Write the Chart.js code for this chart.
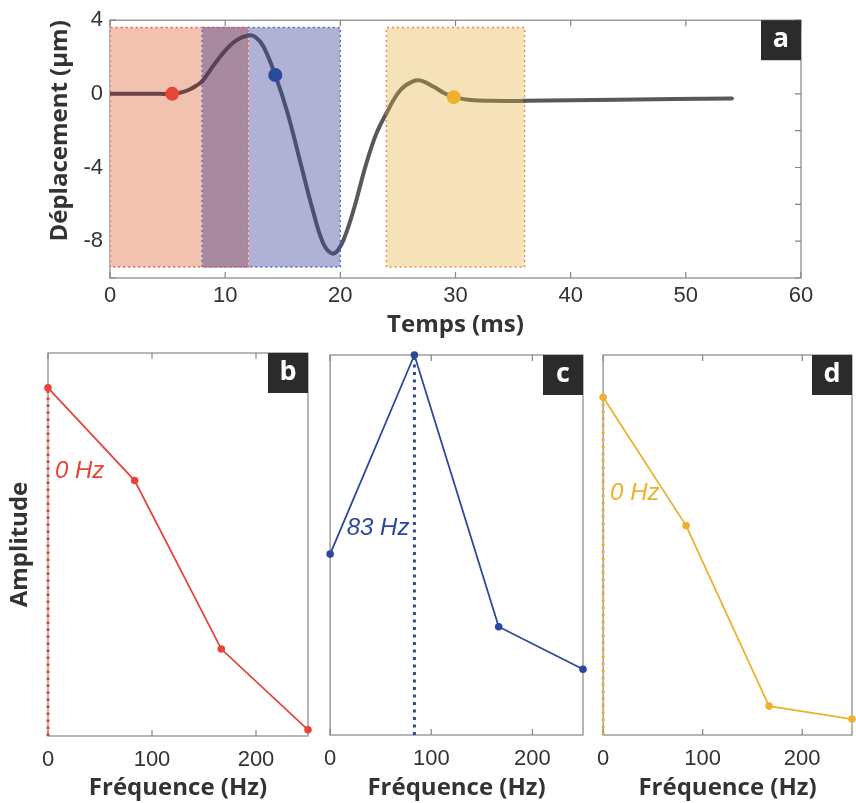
<!DOCTYPE html>
<html lang="fr">
<head>
    <meta charset="UTF-8">
    <title>Déplacement et spectres</title>
    <script src="https://cdn.jsdelivr.net/npm/chart.js"></script>
    <style>
        body {
            margin: 0;
            background: #fff;
        }
        .figure {
            position: relative;
            width: 856px;
            height: 803px;
        }
        .figure canvas {
            position: absolute;
        }
    </style>
</head>
<body>
    <div class="figure">
        <canvas id="chartA" style="left:0;top:0" width="856" height="340"></canvas>
        <canvas id="chartB" style="left:0;top:340px" width="320" height="463"></canvas>
        <canvas id="chartC" style="left:313px;top:340px" width="277" height="463"></canvas>
        <canvas id="chartD" style="left:586px;top:340px" width="270" height="463"></canvas>
    </div>

    <script>
        // --- signal temporel (panneau a) ---
        const temps = [0, 4, 5, 5.5, 6, 6.5, 7, 7.5, 8, 9, 10, 11, 12, 12.6, 13.3, 14.35, 15.4, 16.5, 17.6, 18.5,
                       19.2, 19.7, 20.3, 21.2, 22.2, 23.1, 24, 25.2, 26.3, 27, 28.1, 29, 29.85, 31.3, 33, 36, 44, 54];
        const deplacement = [0, 0, 0, 0.01, 0.05, 0.13, 0.26, 0.45, 0.68, 1.55, 2.35, 2.92, 3.17, 3.1, 2.6, 1.02, -1.0, -3.65, -6.3, -8.1,
                             -8.65, -8.55, -7.9, -6.2, -3.9, -2.2, -1.05, 0.2, 0.68, 0.72, 0.39, 0.05, -0.18, -0.33, -0.38, -0.38, -0.32, -0.25];

        // fenêtres d'analyse (ms) : rouge, bleue, jaune
        const fenetreRouge = [0, 12];
        const fenetreBleue = [8, 20];
        const fenetreJaune = [24, 36];
        const fenetreHaut = 3.6;
        const fenetreBas = -9.4;

        // points marqués sur le signal
        const marqueTemps = [5.4, 14.35, 29.85];
        const marqueDepl = [0, 1.02, -0.18];

        const tempsTicks = [0, 10, 20, 30, 40, 50, 60];
        const deplMarques = [-10, -8, -6, -4, -2, 0, 2, 4];
        const deplTicks = [4, 0, -4, -8];

        // --- spectres (panneaux b, c, d) ---
        const frequences = [0, 83.33, 166.67, 250];
        const amplitudeB = [0.909, 0.667, 0.227, 0.016];
        const amplitudeC = [0.476, 1.0, 0.285, 0.173];
        const amplitudeD = [0.889, 0.551, 0.076, 0.042];
        const freqDominante = [0, 83.33, 0];
        const etiquettesFreq = ['0 Hz', '83 Hz', '0 Hz'];
        const hauteurEtiquettes = [0.69, 0.545, 0.637];
        const freqTicks = [0, 100, 200];

        const ROUGE = '#e8453a';
        const BLEU = '#2c479e';
        const JAUNE = '#edb12f';

        Chart.defaults.font.family = '"Liberation Sans", Arial, sans-serif';
        Chart.defaults.color = '#333';

        const titreFont = { family: '"Open Sans", sans-serif', size: 24, weight: 'bold' };

        // cadre, graduations internes et étiquettes des panneaux
        const cadre = {
            id: 'cadre',
            beforeDatasetsDraw(chart, args, opts) {
                const { ctx, chartArea: a, scales } = chart;
                ctx.save();
                ctx.strokeStyle = '#858585';
                ctx.lineWidth = 1.2;
                ctx.strokeRect(a.left, a.top, a.right - a.left, a.bottom - a.top);
                ctx.beginPath();
                scales.x.ticks.forEach(t => {
                    const px = scales.x.getPixelForValue(t.value);
                    ctx.moveTo(px, a.bottom);
                    ctx.lineTo(px, a.bottom - 6);
                    ctx.moveTo(px, a.top);
                    ctx.lineTo(px, a.top + 6);
                });
                if (opts.marquesY) {
                    scales.y.ticks.forEach(t => {
                        const py = scales.y.getPixelForValue(t.value);
                        ctx.moveTo(a.left, py);
                        ctx.lineTo(a.left + 6, py);
                        ctx.moveTo(a.right, py);
                        ctx.lineTo(a.right - 6, py);
                    });
                }
                ctx.stroke();
                ctx.restore();
            },
            afterDraw(chart, args, opts) {
                const { ctx, chartArea: a } = chart;
                ctx.save();
                ctx.fillStyle = '#2b2b2b';
                ctx.fillRect(a.right - 40, a.top, 40, 40);
                ctx.fillStyle = '#fff';
                ctx.font = 'bold 27px "Open Sans"';
                ctx.textAlign = 'center';
                ctx.textBaseline = 'middle';
                ctx.fillText(opts.lettre, a.right - 20, a.top + 19);
                if (opts.note) {
                    const n = opts.note;
                    const px = chart.scales.x.getPixelForValue(n.x);
                    const py = chart.scales.y.getPixelForValue(n.y);
                    ctx.font = 'italic 24px "Liberation Sans"';
                    ctx.fillStyle = n.couleur;
                    ctx.textAlign = n.gauche ? 'right' : 'left';
                    ctx.fillText(n.texte, px + (n.gauche ? -5 : 7), py);
                }
                ctx.restore();
            }
        };
        Chart.register(cadre);

        // couleur du signal selon la fenêtre traversée
        function couleurSegment(t) {
            const dansR = t >= fenetreRouge[0] && t <= fenetreRouge[1];
            const dansB = t >= fenetreBleue[0] && t <= fenetreBleue[1];
            const dansJ = t >= fenetreJaune[0] && t <= fenetreJaune[1];
            if (dansR && dansB) return '#5c4258';
            if (dansR) return '#6c4446';
            if (dansB) return '#4b5172';
            if (dansJ) return '#857650';
            return '#585858';
        }

        function zoneFenetre(debut, fin, couleur) {
            return {
                data: [{ x: debut, y: fenetreHaut }, { x: fin, y: fenetreHaut }],
                fill: { value: fenetreBas },
                backgroundColor: couleur,
                borderWidth: 0,
                pointRadius: 0,
                tension: 0,
                order: 6
            };
        }

        function contourFenetre(f, couleur) {
            return {
                data: [{ x: f[0], y: fenetreBas }, { x: f[0], y: fenetreHaut }, { x: f[1], y: fenetreHaut },
                       { x: f[1], y: fenetreBas }, { x: f[0], y: fenetreBas }],
                borderColor: couleur,
                borderWidth: 1.4,
                borderDash: [2, 3],
                pointRadius: 0,
                tension: 0,
                fill: false,
                order: 5
            };
        }

        const signal = temps.map((t, i) => ({ x: t, y: deplacement[i] }));
        const couleursMarques = [ROUGE, BLEU, JAUNE];

        new Chart(document.getElementById('chartA'), {
            type: 'line',
            data: {
                datasets: [
                    zoneFenetre(fenetreRouge[0], fenetreBleue[0], '#f2c2b1'),
                    zoneFenetre(fenetreBleue[0], fenetreRouge[1], '#a88a9f'),
                    zoneFenetre(fenetreRouge[1], fenetreBleue[1], '#afb1d5'),
                    zoneFenetre(fenetreJaune[0], fenetreJaune[1], '#f6e2b9'),
                    contourFenetre(fenetreRouge, '#e8604a'),
                    contourFenetre(fenetreBleue, '#5a6cc8'),
                    contourFenetre(fenetreJaune, '#f08a4b'),
                    {
                        data: signal,
                        borderColor: '#585858',
                        borderWidth: 4,
                        borderCapStyle: 'round',
                        borderJoinStyle: 'round',
                        pointRadius: 0,
                        tension: 0.4,
                        fill: false,
                        segment: {
                            borderColor: c => couleurSegment((c.p0.parsed.x + c.p1.parsed.x) / 2)
                        },
                        order: 3
                    },
                    {
                        data: marqueTemps.map((t, i) => ({ x: t, y: marqueDepl[i] })),
                        showLine: false,
                        pointRadius: 7,
                        pointBorderWidth: 0,
                        pointBackgroundColor: couleursMarques,
                        order: 1
                    }
                ]
            },
            options: {
                responsive: false,
                animation: false,
                layout: { padding: { top: 17, right: 55, left: 0, bottom: 0 } },
                plugins: {
                    legend: { display: false },
                    tooltip: { enabled: false },
                    cadre: { lettre: 'a', marquesY: true }
                },
                scales: {
                    x: {
                        type: 'linear',
                        min: 0,
                        max: 60,
                        afterBuildTicks: s => { s.ticks = tempsTicks.map(v => ({ value: v })); },
                        afterFit: s => { s.height = 62; },
                        grid: { display: false, drawTicks: false },
                        border: { display: false },
                        ticks: { font: { size: 22 }, padding: 5, maxRotation: 0 },
                        title: { display: true, text: 'Temps (ms)', font: titreFont, padding: { top: 0, bottom: 0 } }
                    },
                    y: {
                        type: 'linear',
                        min: -10,
                        max: 4,
                        afterBuildTicks: s => { s.ticks = deplMarques.map(v => ({ value: v })); },
                        afterFit: s => { s.width = 110; },
                        grid: { display: false, drawTicks: false },
                        border: { display: false },
                        ticks: {
                            font: { size: 22 },
                            padding: 7,
                            autoSkip: false,
                            callback: v => deplTicks.includes(v) ? String(v) : ''
                        },
                        title: { display: true, text: 'Déplacement (µm)', align: 'end', font: titreFont, padding: { top: 46, bottom: 0 } }
                    }
                }
            }
        });

        // un panneau de spectre
        function spectre(id, amplitudes, couleur, lettre, k, geo) {
            const iDom = frequences.indexOf(freqDominante[k]);
            new Chart(document.getElementById(id), {
                type: 'line',
                data: {
                    datasets: [
                        {
                            data: [{ x: freqDominante[k], y: 0 }, { x: freqDominante[k], y: amplitudes[iDom] }],
                            borderColor: couleur,
                            borderWidth: geo.epaisseurTige,
                            borderDash: geo.tirets,
                            pointRadius: 0,
                            fill: false,
                            clip: false,
                            order: 2
                        },
                        {
                            data: frequences.map((f, i) => ({ x: f, y: amplitudes[i] })),
                            borderColor: couleur,
                            backgroundColor: couleur,
                            borderWidth: 1.8,
                            pointRadius: 3.8,
                            pointBorderWidth: 0,
                            fill: false,
                            clip: false,
                            order: 1
                        }
                    ]
                },
                options: {
                    responsive: false,
                    animation: false,
                    layout: { padding: geo.padding },
                    plugins: {
                        legend: { display: false },
                        tooltip: { enabled: false },
                        cadre: {
                            lettre: lettre,
                            marquesY: false,
                            note: {
                                texte: etiquettesFreq[k],
                                x: freqDominante[k],
                                y: hauteurEtiquettes[k],
                                couleur: couleur,
                                gauche: freqDominante[k] > 0
                            }
                        }
                    },
                    scales: {
                        x: {
                            type: 'linear',
                            min: 0,
                            max: 250,
                            afterBuildTicks: s => { s.ticks = freqTicks.map(v => ({ value: v })); },
                            afterFit: s => { s.height = geo.hauteurX; },
                            grid: { display: false, drawTicks: false },
                            border: { display: false },
                            ticks: { font: { size: 22 }, padding: 11, maxRotation: 0 },
                            title: { display: true, text: 'Fréquence (Hz)', font: titreFont, padding: { top: 0, bottom: 0 } }
                        },
                        y: {
                            type: 'linear',
                            min: 0,
                            max: 1,
                            display: geo.titreY,
                            afterFit: s => { s.width = geo.largeurY; },
                            grid: { display: false, drawTicks: false },
                            border: { display: false },
                            ticks: { display: false },
                            title: { display: geo.titreY, text: 'Amplitude', font: titreFont, padding: { top: 6, bottom: 0 } }
                        }
                    }
                }
            });
        }

        spectre('chartB', amplitudeB, ROUGE, 'b', 0, {
            padding: { top: 13, right: 12, left: 0, bottom: 0 }, hauteurX: 67, largeurY: 48, titreY: true,
            epaisseurTige: 3, tirets: [2.5, 4.5]
        });
        spectre('chartC', amplitudeC, BLEU, 'c', 1, {
            padding: { top: 15, right: 7, left: 8, bottom: 0 }, hauteurX: 68, largeurY: 0, titreY: false,
            epaisseurTige: 3, tirets: [3, 4.5]
        });
        spectre('chartD', amplitudeD, JAUNE, 'd', 2, {
            padding: { top: 15, right: 1, left: 9, bottom: 0 }, hauteurX: 68, largeurY: 0, titreY: false,
            epaisseurTige: 3, tirets: [2.5, 4.5]
        });
    </script>
</body>
</html>
